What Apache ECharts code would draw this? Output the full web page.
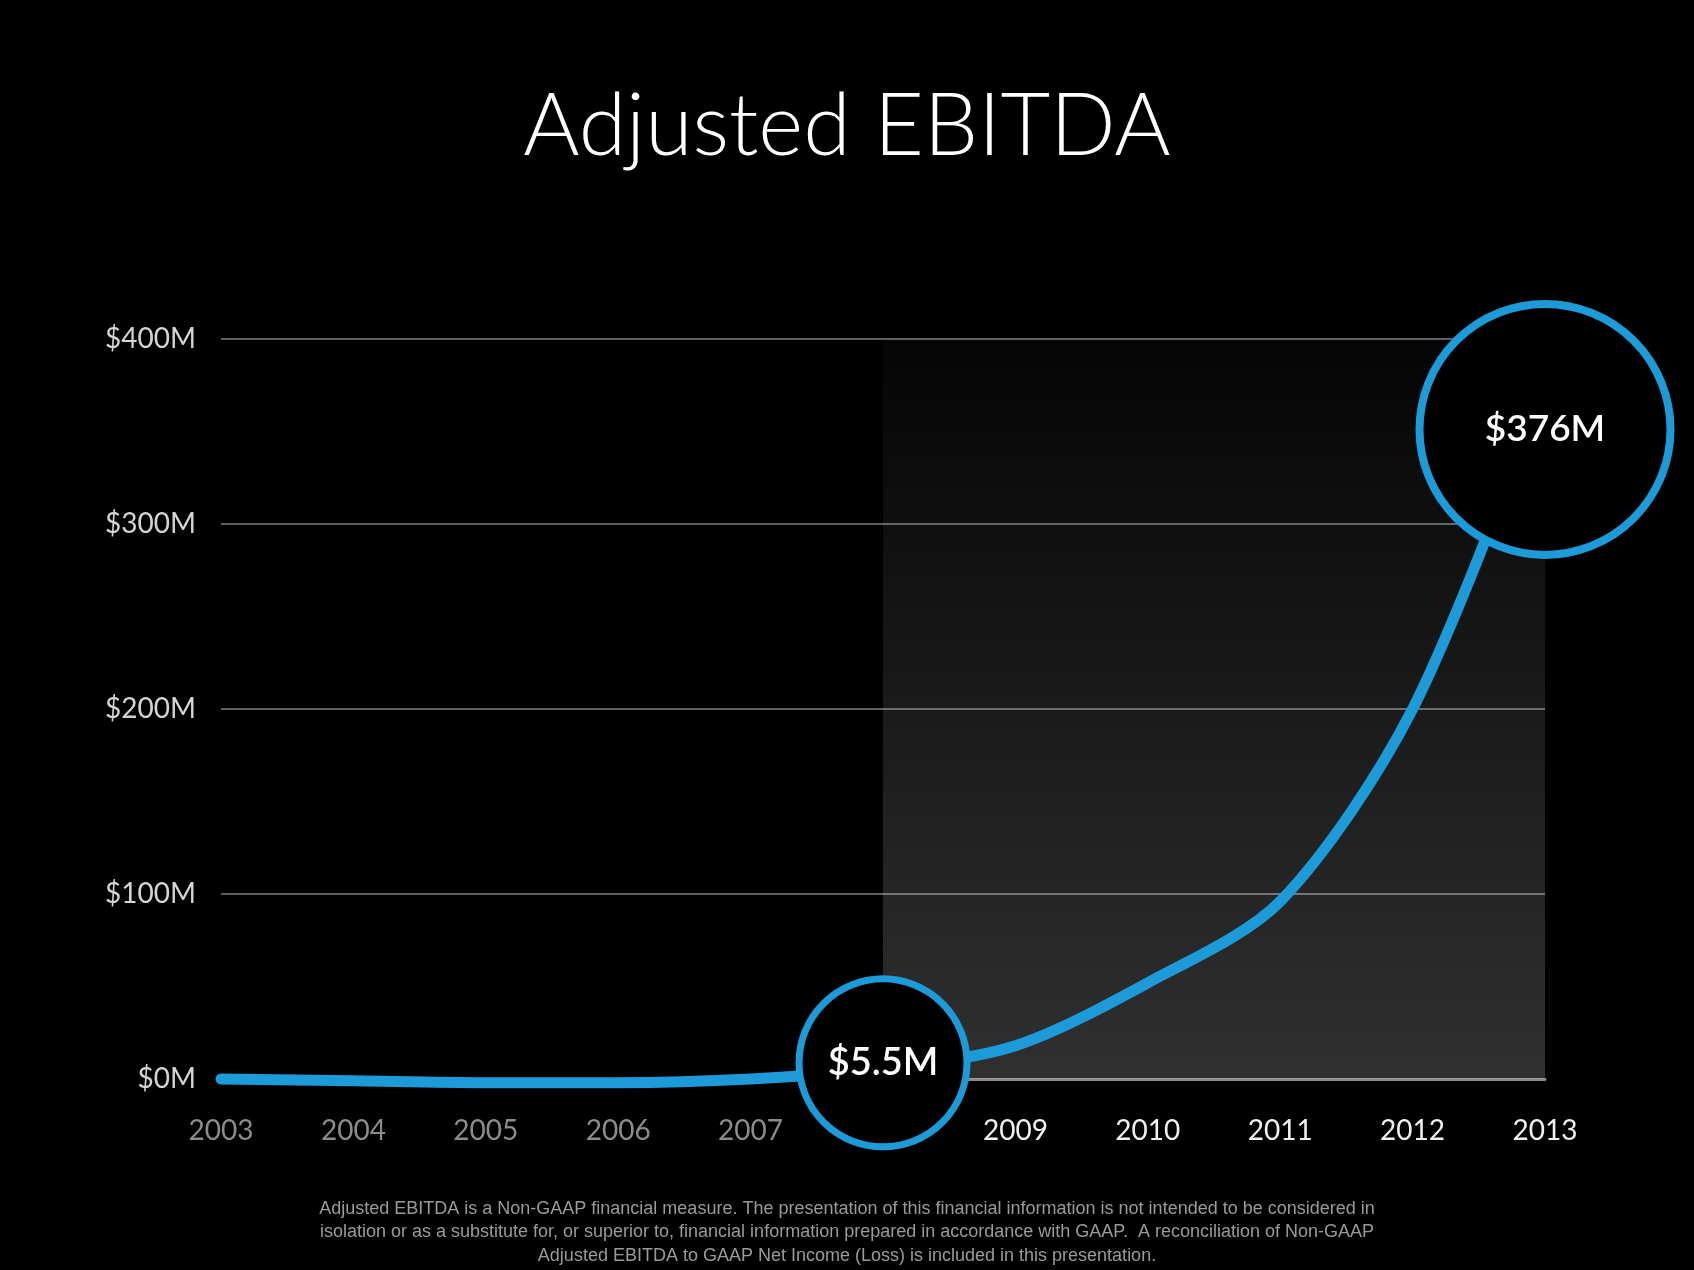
<!DOCTYPE html>
<html><head><meta charset="utf-8">
<script src="https://cdn.jsdelivr.net/npm/echarts@6/dist/echarts.min.js"></script>
<style>html,body{margin:0;padding:0;background:#000;}#c{width:1694px;height:1270px;}</style>
</head><body><div id="c"></div>
<script>
// ---- data ----
const years = ['2003','2004','2005','2006','2007','2008','2009','2010','2011','2012','2013'];
const ebitda = [0, -1, -2, -2, 0, 5.5, 18, 52, 96, 200, 376];   // $M
const yTickValues = [0, 100, 200, 300, 400];
const calloutYears = ['2008', '2013'];
const calloutLabels = ['$5.5M', '$376M'];
const shadedFrom = '2008';
const shadedTo = '2013';
const titleText = 'Adjusted EBITDA';
const footnoteLines = [
  'Adjusted EBITDA is a Non-GAAP financial measure. The presentation of this financial information is not intended to be considered in',
  'isolation or as a substitute for, or superior to, financial information prepared in accordance with GAAP.  A reconciliation of Non-GAAP',
  'Adjusted EBITDA to GAAP Net Income (Loss) is included in this presentation.'
];

// ---- styles ----
const BLUE = '#1c9bd8';
const calloutStyle = {
  '2008': { size: 168, border: 7, offset: [0, -6], font: 38 },
  '2013': { size: 251, border: 8, offset: [0, 46], font: 37 }
};

const seriesData = years.map((y, i) => {
  const ci = calloutYears.indexOf(y);
  if (ci < 0) return { value: ebitda[i], symbolSize: 0, label: { show: false } };
  const st = calloutStyle[y];
  return {
    value: ebitda[i],
    symbol: 'circle',
    symbolSize: st.size,
    symbolOffset: st.offset,
    itemStyle: { color: '#000', borderColor: BLUE, borderWidth: st.border },
    label: {
      show: true, position: 'inside', formatter: calloutLabels[ci],
      color: '#fff', fontSize: st.font, fontWeight: 600, fontFamily: 'Lato, sans-serif'
    }
  };
});

const chart = echarts.init(document.getElementById('c'), null, { renderer: 'canvas' });
chart.setOption({
  backgroundColor: '#000',
  animation: false,
  title: {
    text: titleText, left: 'center', top: 79,
    textStyle: { color: '#fff', fontSize: 86, fontWeight: 300, fontFamily: 'Lato, sans-serif' }
  },
  grid: { left: 221, right: 149, top: 339, bottom: 191, containLabel: false },
  xAxis: {
    type: 'category', data: years, boundaryGap: false,
    axisLine: { show: true, lineStyle: { color: '#8a8a8a', width: 3 } },
    axisTick: { show: false },
    axisLabel: {
      margin: 38, fontSize: 28, fontFamily: 'Lato, sans-serif',
      color: (v) => (Number(v) >= Number(shadedFrom) ? '#f0f0f0' : '#8c8c8c')
    },
    splitLine: { show: false }
  },
  yAxis: {
    type: 'value', min: yTickValues[0], max: yTickValues[yTickValues.length - 1], interval: 100,
    axisLine: { show: false }, axisTick: { show: false },
    axisLabel: {
      margin: 25, fontSize: 28, color: '#d4d4d4', fontFamily: 'Lato, sans-serif',
      formatter: (v) => '$' + v + 'M'
    },
    splitLine: { show: true, lineStyle: { color: '#5e5e5e', width: 2 } }
  },
  series: [{
    type: 'line', data: seriesData, smooth: 0.3, clip: false,
    showAllSymbol: true,
    lineStyle: { color: BLUE, width: 11, cap: 'round' },
    itemStyle: { color: BLUE },
    z: 5,
    markArea: {
      silent: true,
      itemStyle: {
        color: new echarts.graphic.LinearGradient(0, 0, 0, 1, [
          { offset: 0, color: 'rgba(255,255,255,0.02)' },
          { offset: 1, color: 'rgba(255,255,255,0.19)' }
        ])
      },
      data: [[{ xAxis: shadedFrom, yAxis: yTickValues[0] }, { xAxis: shadedTo, yAxis: yTickValues[yTickValues.length - 1] }]]
    }
  }],
  graphic: [{
    type: 'text', x: 847, y: 1197, z: 10,
    style: {
      text: footnoteLines.join('\n'), textAlign: 'center', fill: '#9a9a9a',
      font: '18px "Liberation Sans", sans-serif', lineHeight: 23.5
    }
  }]
});
</script>
</body></html>
